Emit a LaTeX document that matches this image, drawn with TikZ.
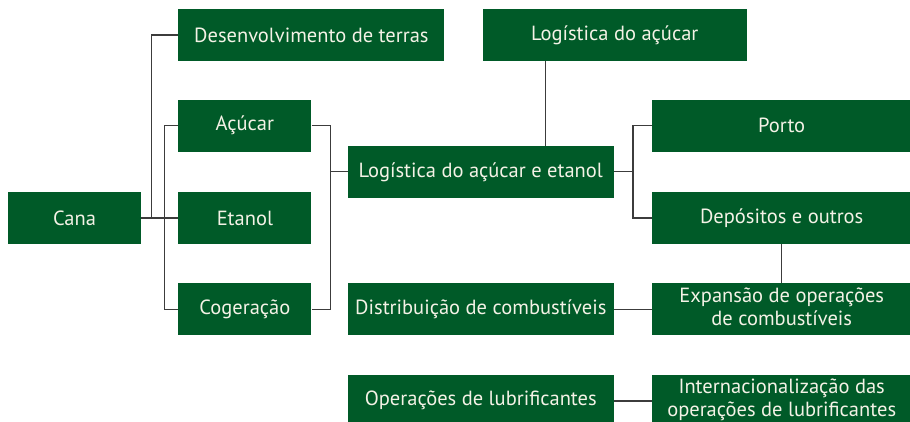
\documentclass[tikz,border=0pt]{standalone}
\usepackage{fontspec}
\setmainfont{PT Sans}
\usetikzlibrary{positioning,calc}

\begin{document}
\begin{tikzpicture}[x=1pt,y=1pt]
       \definecolor{canegreen}{HTML}{005A28}
       \definecolor{paletext}{HTML}{F4F2E6}
       \definecolor{linegray}{HTML}{3C3C3C}
       \newcommand{\colgap}[0]{37pt}
       \newcommand{\rowgap}[0]{39pt}
       \newcommand{\boxname}[1]{\begin{tabular}{@{}c@{}}#1\end{tabular}}
       \tikzstyle{block}     = [rectangle, fill = canegreen, text = paletext, minimum height=52pt, inner sep=0pt, font=\fontsize{20.5}{23}\selectfont]
       \tikzstyle{connector} = [line width=1.4pt, draw = linegray]

       \useasboundingbox (0,0) rectangle (910,-422);

       \node [block, minimum width=133pt] (cana) at (74.5,-218) {Cana};
       \node [block, minimum width=133pt, right = \colgap of cana] (etanol) {Etanol};
       \node [block, minimum width=133pt, above = 40pt of etanol] (acucar) {Açúcar};
       \node [block, minimum width=133pt, below = \rowgap of etanol] (cogeracao) {Cogeração};
       \node [block, minimum width=266pt, above right = 38pt and 0pt of acucar.north west] (desenv) {Desenvolvimento de terras};
       \node [block, minimum width=264pt, right = 38pt of desenv] (logacucar) {Logística do açúcar};
       \node [block, minimum width=266pt, anchor=west] (logae) at ($(acucar.east)!0.5!(etanol.east)+(36pt,0)$) {Logística do açúcar e etanol};
       \node [block, minimum width=259pt, anchor=west, xshift=38pt] (porto) at (logae.east |- acucar) {Porto};
       \node [block, minimum width=259pt, below = 40pt of porto] (deposito) {Depósitos e outros};
       \node [block, minimum width=259pt, below = \rowgap of deposito] (expansao) {\boxname{Expansão de operações\\de combustíveis}};
       \node [block, minimum width=266pt] (distrib) at (logae |- expansao) {Distribuição de combustíveis};
       \node [block, minimum width=266pt, below = \rowgap of distrib] (lubrif) {Operações de lubrificantes};
       \node [block, minimum width=259pt, below = \rowgap of expansao] (intern) {\boxname{Internacionalização das\\operações de lubrificantes}};

       \draw [connector] (cana) -- (etanol);
       \draw [connector] (cana.east) -- ++(10pt,0) |- (desenv);
       \draw [connector] (acucar.west) -- ++(-14pt,0) |- (cogeracao);
       \draw [connector] (acucar.east) -- ++(19pt,0) coordinate (lbus) |- (cogeracao);
       \draw [connector] (logae) -- (logae -| lbus);
       \draw [connector] (logae.east) -- ++(19pt,0) coordinate (rbus);
       \draw [connector] (porto.west) -| (rbus) |- (deposito);
       \draw [connector] (logacucar.south west) ++(63pt,0) coordinate (drop) -- (drop |- logae.north);
       \draw [connector] (deposito) -- (expansao);
       \draw [connector] (distrib) -- (expansao);
       \draw [connector] (lubrif) -- (intern);
     \end{tikzpicture}
\end{document}
